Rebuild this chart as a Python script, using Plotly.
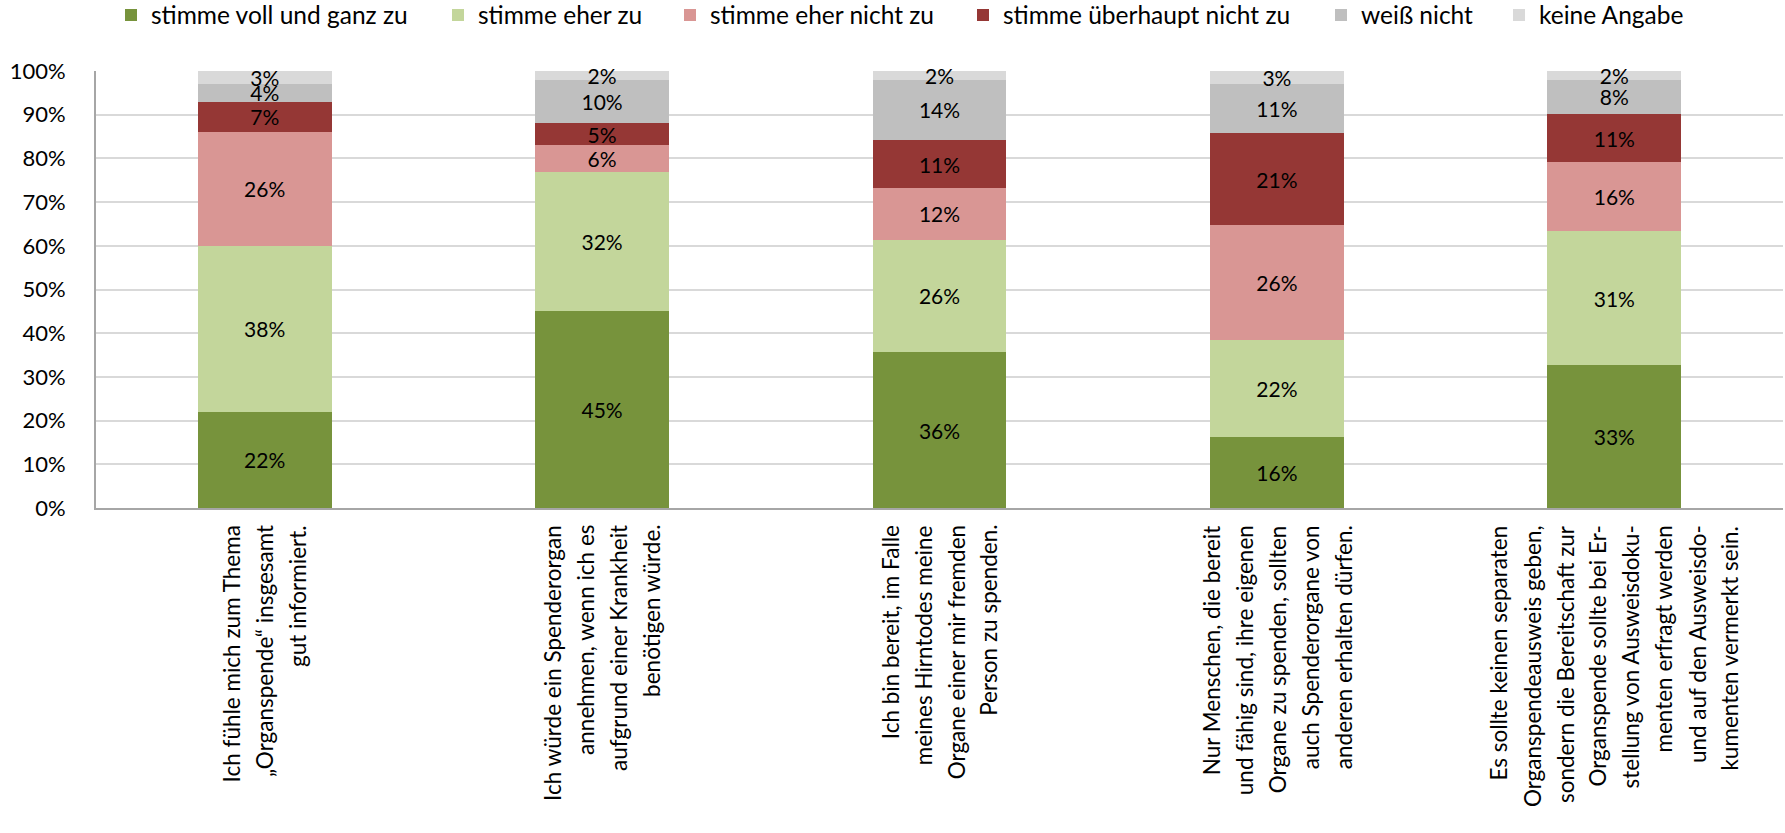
import plotly.graph_objects as go

# Survey statements (x categories) and the wrapped lines drawn under each bar
categories = ["S1", "S2", "S3", "S4", "S5"]
category_lines = [
    ["Ich fühle mich zum Thema", "„Organspende“ insgesamt", "gut informiert."],
    ["Ich würde ein Spenderorgan", "annehmen, wenn ich es",
     "aufgrund einer Krankheit", "benötigen würde."],
    ["Ich bin bereit, im Falle", "meines Hirntodes meine",
     "Organe einer mir fremden", "Person zu spenden."],
    ["Nur Menschen, die bereit", "und fähig sind, ihre eigenen",
     "Organe zu spenden, sollten", "auch Spenderorgane von",
     "anderen erhalten dürfen."],
    ["Es sollte keinen separaten", "Organspendeausweis geben,",
     "sondern die Bereitschaft zur", "Organspende sollte bei Er-",
     "stellung von Ausweisdoku-", "menten erfragt werden",
     "und auf den Ausweisdo-", "kumenten vermerkt sein."],
]

# Answer shares in percent, one list per answer option
voll_und_ganz = [22, 45, 36, 16, 33]
eher_zu = [38, 32, 26, 22, 31]
eher_nicht = [26, 6, 12, 26, 16]
ueberhaupt_nicht = [7, 5, 11, 21, 11]
weiss_nicht = [4, 10, 14, 11, 8]
keine_angabe = [3, 2, 2, 3, 2]

series_names = ["stimme voll und ganz zu", "stimme eher zu", "stimme eher nicht zu",
                "stimme überhaupt nicht zu", "weiß nicht", "keine Angabe"]
series_values = [voll_und_ganz, eher_zu, eher_nicht, ueberhaupt_nicht,
                 weiss_nicht, keine_angabe]
series_colors = ["#77933C", "#C3D69B", "#D99694", "#953735", "#BFBFBF", "#D9D9D9"]

# Left edge (px) of each legend entry along the top row
legend_left_px = [111, 438, 670, 963, 1321, 1499]

FONT = "Lato, 'Open Sans', sans-serif"
W, H = 1785, 833

fig = go.Figure()
legend_layouts = {}
for k, (name, vals, col) in enumerate(zip(series_names, series_values, series_colors)):
    legend_id = "legend" if k == 0 else f"legend{k + 1}"
    fig.add_trace(go.Bar(
        x=categories, y=vals, name=name,
        marker=dict(color=col, line=dict(width=0)),
        text=[f"{v}%" for v in vals],
        textposition="inside", insidetextanchor="middle", textangle=0,
        insidetextfont=dict(family=FONT, size=21, color="black"),
        cliponaxis=False,
        hoverinfo="skip",
        legend=legend_id,
    ))
    legend_layouts[legend_id] = dict(
        orientation="h",
        xref="container", x=legend_left_px[k] / W, xanchor="left",
        yref="container", y=1 - 15 / H, yanchor="middle",
        font=dict(family=FONT, size=24.5, color="black"),
        bgcolor="rgba(0,0,0,0)", borderwidth=0,
        itemclick=False, itemdoubleclick=False,
    )

# Multi-line statements under the axis, one rotated line each
LINE_STEP = 33
for cat, lines in zip(categories, category_lines):
    n = len(lines)
    for i, line in enumerate(lines):
        fig.add_annotation(
            x=cat, xref="x", y=-0.035, yref="paper",
            xshift=(i - (n - 1) / 2) * LINE_STEP,
            text=line, showarrow=False, textangle=-90,
            xanchor="center", yanchor="top",
            font=dict(family=FONT, size=22.5, color="black"),
        )

fig.update_layout(
    barmode="stack",
    barnorm="percent",
    bargap=0.603,
    width=W, height=H,
    margin=dict(l=96, r=2, t=71, b=325),
    plot_bgcolor="white", paper_bgcolor="white",
    uniformtext=dict(minsize=21, mode="show"),
    font=dict(family=FONT, size=22, color="black"),
    showlegend=True,
    **legend_layouts,
)
fig.update_xaxes(
    showticklabels=False, showgrid=False,
    showline=True, linecolor="#A6A6A6", linewidth=2,
    range=[-0.5, 4.5],
)
fig.update_yaxes(
    range=[0, 100], dtick=10, ticksuffix="%",
    showgrid=True, gridcolor="#D9D9D9", gridwidth=2,
    showline=True, linecolor="#A6A6A6", linewidth=2,
    zeroline=False, ticklabelstandoff=24,
    tickfont=dict(family=FONT, size=22, color="black"),
)

fig.write_html("out.html")
